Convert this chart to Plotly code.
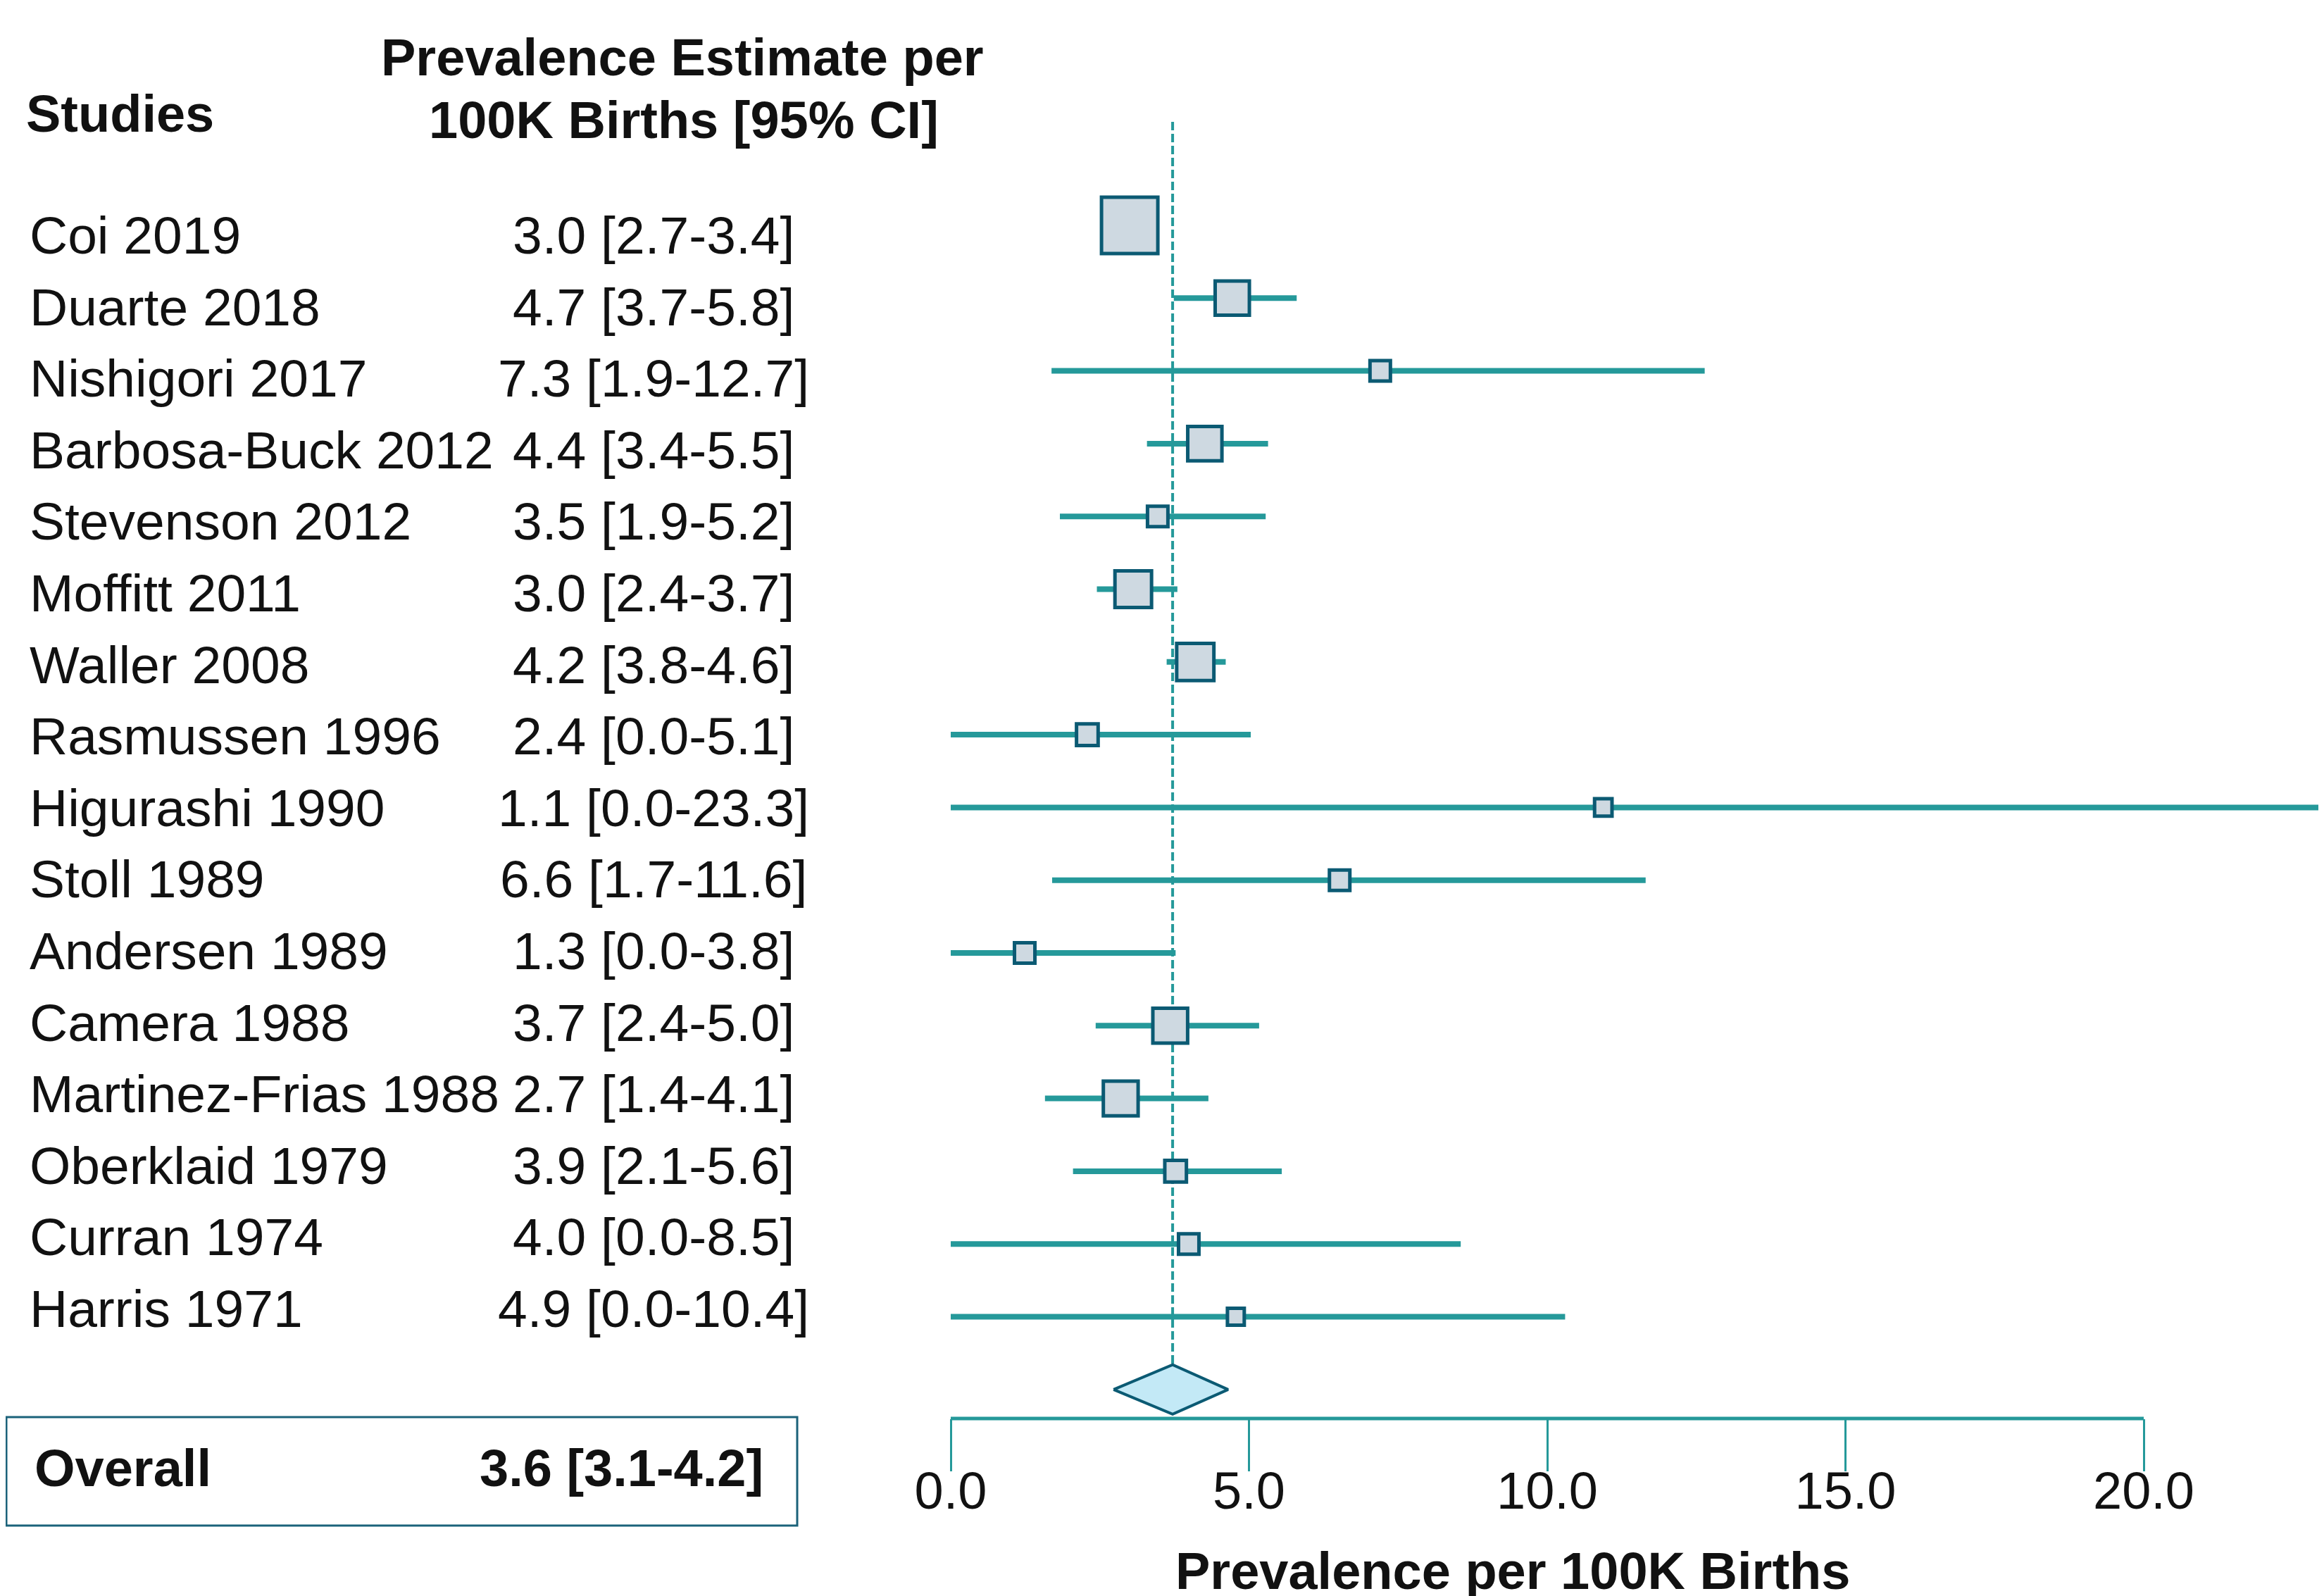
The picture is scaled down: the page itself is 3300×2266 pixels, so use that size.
import plotly.graph_objects as go

# ---------------- data ----------------
studies = ["Coi 2019", "Duarte 2018", "Nishigori 2017", "Barbosa-Buck 2012",
           "Stevenson 2012", "Moffitt 2011", "Waller 2008", "Rasmussen 1996",
           "Higurashi 1990", "Stoll 1989", "Andersen 1989", "Camera 1988",
           "Martinez-Frias 1988", "Oberklaid 1979", "Curran 1974", "Harris 1971"]
estimate_labels = ["3.0 [2.7-3.4]", "4.7 [3.7-5.8]", "7.3 [1.9-12.7]", "4.4 [3.4-5.5]",
                   "3.5 [1.9-5.2]", "3.0 [2.4-3.7]", "4.2 [3.8-4.6]", "2.4 [0.0-5.1]",
                   "1.1 [0.0-23.3]", "6.6 [1.7-11.6]", "1.3 [0.0-3.8]", "3.7 [2.4-5.0]",
                   "2.7 [1.4-4.1]", "3.9 [2.1-5.6]", "4.0 [0.0-8.5]", "4.9 [0.0-10.4]"]
# plotted point estimates and CI ends as drawn in the figure
est = [3.0, 4.72, 7.2, 4.26, 3.47, 3.06, 4.1, 2.29, 10.94, 6.52, 1.24, 3.68, 2.85, 3.77, 3.99, 4.78]
ci_lo = [2.7, 3.74, 1.69, 3.29, 1.83, 2.45, 3.62, 0.0, 0.0, 1.7, -0.05, 2.43, 1.58, 2.05, 0.0, 0.0]
ci_hi = [3.4, 5.8, 12.64, 5.32, 5.28, 3.8, 4.61, 5.03, 23.3, 11.65, 3.77, 5.17, 4.32, 5.55, 8.55, 10.3]
# relative study weights (largest = 1)
weight = [1.0, 0.63, 0.40, 0.63, 0.40, 0.67, 0.68, 0.42, 0.35, 0.40, 0.40, 0.64, 0.64, 0.42, 0.40, 0.34]

overall_est = 3.72
overall_lo = 2.73
overall_hi = 4.65
overall_label = "3.6 [3.1-4.2]"

tick_vals = [0, 5, 10, 15, 20]
tick_text = ["0.0", "5.0", "10.0", "15.0", "20.0"]

# ---------------- style ----------------
W, H = 3300, 2266
OFF = 8  # default page body margin
FONT = "Liberation Sans, Arial, sans-serif"
TEAL = "#25999A"
DARK = "#0B5A73"
BOXFILL = "#CED9E1"
DIAMOND = "#C3E9F6"
TXT = "#111111"
FS = 75
MAXBOX = 85  # px side of largest box (outer)
BORDER = 5

def px_x(x):
    return (x - OFF) / W

def px_y(y):
    return 1 - (y - OFF) / H

rows = list(range(len(studies)))
diamond_row = len(studies)

# screen layout of the plotting area
ROW0, ROWSTEP = 320, 103.3      # marker rows
TXT0, TXTSTEP = 334, 101.6      # text rows
AXIS_Y = 2014
X0PX, UNIT = 1350, 84.7

fig = go.Figure()

# CI lines
xs, ys = [], []
for r, lo, hi in zip(rows, ci_lo, ci_hi):
    xs += [lo, hi, None]
    ys += [r, r, None]
fig.add_trace(go.Scatter(x=xs, y=ys, mode="lines",
                         line=dict(color=TEAL, width=8), hoverinfo="skip"))

# boxes
fig.add_trace(go.Scatter(
    x=est, y=rows, mode="markers",
    marker=dict(symbol="square", size=[w * MAXBOX - BORDER for w in weight],
                color=BOXFILL, opacity=1, line=dict(color=DARK, width=BORDER)),
    cliponaxis=False, hoverinfo="skip"))

# overall diamond
hh = 0.34
fig.add_trace(go.Scatter(
    x=[overall_lo, overall_est, overall_hi, overall_est, overall_lo],
    y=[diamond_row, diamond_row - hh, diamond_row, diamond_row + hh, diamond_row],
    mode="lines", fill="toself", fillcolor=DIAMOND,
    line=dict(color=DARK, width=4), hoverinfo="skip"))

shapes = []
# dashed reference line
shapes.append(dict(type="line", xref="x", yref="y", x0=overall_est, x1=overall_est,
                   y0=(173 - ROW0) / ROWSTEP, y1=diamond_row - hh, layer="below",
                   line=dict(color=TEAL, width=4, dash="12px,5px")))
# axis line from first to last tick
shapes.append(dict(type="line", xref="x", yref="y domain", x0=tick_vals[0], x1=tick_vals[-1],
                   y0=0, y1=0, line=dict(color=TEAL, width=5)))
# overall box
shapes.append(dict(type="rect", xref="paper", yref="paper",
                   x0=px_x(9), x1=px_x(1132), y0=px_y(2166), y1=px_y(2012),
                   line=dict(color="#1B627A", width=3), fillcolor="rgba(0,0,0,0)"))

ann = []
for r, s, lab in zip(rows, studies, estimate_labels):
    ty = px_y(TXT0 + TXTSTEP * r)
    ann.append(dict(x=px_x(40), y=ty, xref="paper", yref="paper", text=s, showarrow=False,
                    xanchor="left", yanchor="middle",
                    font=dict(family=FONT, size=FS, color=TXT)))
    ann.append(dict(x=px_x(928), y=ty, xref="paper", yref="paper", text=lab, showarrow=False,
                    xanchor="center", yanchor="middle",
                    font=dict(family=FONT, size=FS, color=TXT)))

ann.append(dict(x=px_x(35), y=px_y(162), xref="paper", yref="paper", text="<b>Studies</b>",
                showarrow=False, xanchor="left", yanchor="middle",
                font=dict(family=FONT, size=74, color=TXT)))
ann.append(dict(x=px_x(969), y=px_y(82), xref="paper", yref="paper",
                text="<b>Prevalence Estimate per</b>", showarrow=False,
                xanchor="center", yanchor="middle", font=dict(family=FONT, size=74, color=TXT)))
ann.append(dict(x=px_x(971), y=px_y(171), xref="paper", yref="paper",
                text="<b>100K Births [95% CI]</b>", showarrow=False,
                xanchor="center", yanchor="middle", font=dict(family=FONT, size=74, color=TXT)))
ann.append(dict(x=px_x(47), y=px_y(2084), xref="paper", yref="paper", text="<b>Overall</b>",
                showarrow=False, xanchor="left", yanchor="middle",
                font=dict(family=FONT, size=74, color=TXT)))
ann.append(dict(x=px_x(1086), y=px_y(2084), xref="paper", yref="paper",
                text="<b>" + overall_label + "</b>", showarrow=False,
                xanchor="right", yanchor="middle", font=dict(family=FONT, size=74, color=TXT)))
ann.append(dict(x=px_x(2148), y=px_y(2230), xref="paper", yref="paper",
                text="<b>Prevalence per 100K Births</b>", showarrow=False,
                xanchor="center", yanchor="middle", font=dict(family=FONT, size=74, color=TXT)))

fig.update_layout(
    width=W, height=H, margin=dict(l=0, r=0, t=0, b=0, pad=0, autoexpand=False),
    paper_bgcolor="white", plot_bgcolor="white", showlegend=False,
    xaxis=dict(domain=[(X0PX - OFF) / W, 1.0], range=[0, (W + OFF - X0PX) / UNIT],
               automargin=False, showgrid=False, zeroline=False, showline=False,
               tickmode="array", tickvals=tick_vals, ticktext=tick_text,
               ticks="outside", ticklen=74, tickwidth=3, tickcolor=TEAL,
               ticklabelstandoff=-36,
               tickfont=dict(family=FONT, size=74, color=TXT)),
    yaxis=dict(domain=[1 - (AXIS_Y - OFF) / H, 1.0],
               range=[(AXIS_Y - ROW0) / ROWSTEP, (OFF - ROW0) / ROWSTEP],
               visible=False, showgrid=False, zeroline=False, automargin=False),
    shapes=shapes, annotations=ann,
)

fig.write_html("out.html")
